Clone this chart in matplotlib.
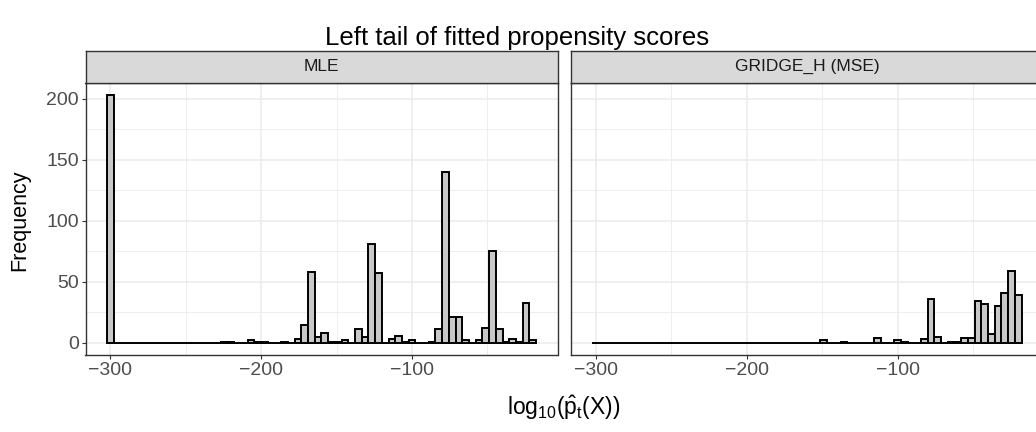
import numpy as np
import matplotlib.pyplot as plt

plt.rcParams["font.family"] = ["Liberation Sans", "DejaVu Sans"]
plt.rcParams["mathtext.fontset"] = "custom"
plt.rcParams["mathtext.rm"] = "Liberation Sans"
plt.rcParams["mathtext.it"] = "Liberation Sans:italic"

# histogram data (64 bins, first bin centred on -300, last on -20)
panels = ["MLE", "GRIDGE_H (MSE)"]
bin_first = -300.0
bin_last = -20.0
n_bins = 64

mle_counts = [203, 0, 0, 0, 0, 0, 0, 0, 0, 0, 0, 0, 0, 0, 0, 0,
              0, 1, 1, 0, 0, 2, 1, 1, 0, 0, 1, 0, 3, 15, 58, 5,
              8, 1, 1, 2, 0, 11, 5, 81, 57, 0, 3, 6, 1, 2, 0, 0,
              1, 11, 140, 21, 21, 2, 0, 2, 12, 75, 11, 1, 3, 1, 33, 2]

gridge_counts = [0, 0, 0, 0, 0, 0, 0, 0, 0, 0, 0, 0, 0, 0, 0, 0,
                 0, 0, 0, 0, 0, 0, 0, 0, 0, 0, 0, 0, 0, 0, 0, 0,
                 0, 0, 2, 0, 0, 1, 0, 0, 0, 0, 4, 0, 0, 2, 1, 0,
                 0, 3, 36, 5, 0, 1, 1, 4, 4, 34, 32, 7, 30, 41, 59, 39]

x_ticks = [-300, -200, -100]
y_ticks = [0, 50, 100, 150, 200]

W, H = 1036, 432
fig = plt.figure(figsize=(W / 100, H / 100), dpi=100)


def px_axes(x0, y0, x1, y1):
    return fig.add_axes([x0 / W, 1 - y1 / H, (x1 - x0) / W, (y1 - y0) / H])


centers = np.linspace(bin_first, bin_last, n_bins)
width = (bin_last - bin_first) / (n_bins - 1)
lo, hi = bin_first - width / 2, bin_last + width / 2
pad = 0.05 * (hi - lo)
ymax = max(max(mle_counts), max(gridge_counts))

border = "#333333"
panel_top, panel_bot = 82.7, 355.3
panel_lefts = [85.5, 571.0]
panel_w = 472.0

for i, (name, counts) in enumerate(zip(panels, [mle_counts, gridge_counts])):
    x0 = panel_lefts[i]
    ax = px_axes(x0, panel_top, x0 + panel_w, panel_bot)
    ax.bar(centers, counts, width=width, color="#C8C8C8", edgecolor="black",
           linewidth=1.4, zorder=2)
    ax.set_xlim(lo - pad, hi + pad)
    ax.set_ylim(-0.05 * ymax, 1.05 * ymax)
    ax.set_xticks(x_ticks)
    ax.set_xticks([-250, -150, -50], minor=True)
    ax.set_yticks(y_ticks)
    ax.set_yticks([25, 75, 125, 175], minor=True)
    ax.set_axisbelow(True)
    ax.grid(which="major", color="#EBEBEB", linewidth=1.1)
    ax.grid(which="minor", color="#EBEBEB", linewidth=0.6)
    for sp in ax.spines.values():
        sp.set_color(border)
        sp.set_linewidth(1.0)
        sp.set_zorder(3)
    ax.tick_params(which="major", direction="out", length=2.9, width=0.8,
                   color=border, labelcolor="#4D4D4D", labelsize=14, pad=2)
    ax.tick_params(which="minor", length=0)
    if i > 0:
        ax.tick_params(axis="y", which="both", left=False, labelleft=False)

    strip = px_axes(x0, 50.5, x0 + panel_w, panel_top)
    strip.set_facecolor("#D9D9D9")
    strip.set_xticks([])
    strip.set_yticks([])
    for sp in strip.spines.values():
        sp.set_color(border)
        sp.set_linewidth(1.0)
    strip.text(0.5, 0.5, name, ha="center", va="center", fontsize=12.5,
               color="#1A1A1A", transform=strip.transAxes)

fig.text(20 / W, 1 - 220 / H, "Frequency", rotation=90, ha="center", va="center",
         fontsize=15.5, color="black")
fig.text(564 / W, 1 - 408 / H, r"$\mathrm{log}_{10}(\hat{\mathrm{p}}_{\mathrm{t}}(\mathrm{X}))$",
         ha="center", va="center", fontsize=16.5, color="black")
fig.text(517 / W, 1 - 38 / H, "Left tail of fitted propensity scores", ha="center",
         va="center", fontsize=18.5, color="black")

fig.savefig("out.png", dpi=100)
